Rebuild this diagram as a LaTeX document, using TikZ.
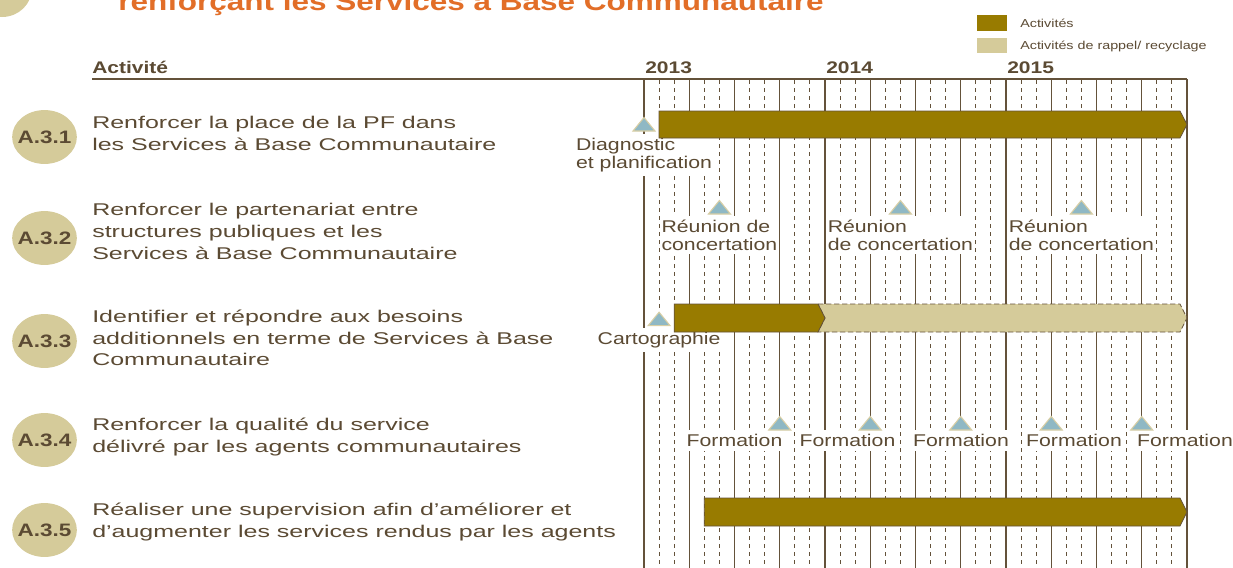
\documentclass[tikz,border=0pt]{standalone}
\usepackage{fontspec}
\setmainfont{Liberation Sans}[FakeStretch=1.25]
\newfontfamily\rowfont{Liberation Sans}[FakeStretch=1.47]
\usetikzlibrary{shapes.geometric}

\definecolor{txtbrown}{RGB}{91,74,51}
\definecolor{gridbrown}{RGB}{100,82,58}
\definecolor{actdark}{RGB}{152,123,0}
\definecolor{actlight}{RGB}{213,203,154}
\definecolor{jalonblue}{RGB}{143,184,196}
\definecolor{jalonedge}{RGB}{216,206,164}
\definecolor{titleorange}{RGB}{226,110,40}

% month -> x
\newcommand{\mo}[1]{644+15.0833*#1}

\tikzset{
  gridsolid/.style={draw=gridbrown,line width=0.9pt},
  griddash/.style={draw=gridbrown,line width=0.7pt,dash pattern=on 3pt off 3pt},
  code/.style={ellipse,fill=actlight,inner xsep=-3pt,inner ysep=9.5pt,text=txtbrown,font=\bfseries\fontsize{13.5}{16}\selectfont},
  acttext/.style={anchor=base west,inner sep=0pt,align=left,text=txtbrown,font=\rowfont\fontsize{12.75}{16.3}\selectfont},
  hdr/.style={anchor=base west,inner sep=0pt,text=txtbrown,font=\bfseries\fontsize{12.6}{15}\selectfont},
  legtext/.style={anchor=base west,inner sep=0pt,text=txtbrown,font=\fontsize{8.6}{10}\selectfont},
  jalontext/.style={anchor=base,inner xsep=0.75pt,inner ysep=3pt,fill=white,align=left,text=txtbrown,font=\fontsize{12.75}{13.5}\selectfont},
  bardark/.style={fill=actdark,draw=gridbrown,line width=0.6pt},
  barlight/.style={fill=actlight,draw=gridbrown,line width=0.6pt,dash pattern=on 4pt off 2pt},
  jalon/.pic={\draw[fill=jalonblue,draw=jalonedge,line width=0.8pt] (-11,0) -- (0,13.5) -- (11,0) -- cycle;}
}

\begin{document}
\begin{tikzpicture}[x=0.75pt,y=0.75pt,yscale=-1,xscale=1]
\fill[white] (0,0) rectangle (1233,568);
\useasboundingbox (0,0) rectangle (1233,568);

%Shape: Circle (title, cut)
\fill[actlight] (2,-12) ellipse [x radius=30,y radius=29];
% Text Node
\node[anchor=base west,inner sep=0pt,text=titleorange,font=\bfseries\fontsize{18.9}{22}\selectfont] (titre) at (118,10) {renforçant les Services à Base Communautaire};

%Legend
\fill[actdark] (976.7,15) rectangle (1006.7,31);
\fill[actlight] (976.7,37.7) rectangle (1006.7,53.3);
\node[legtext] (legact) at (1020,27.7) {Activités};
\node[legtext] (legrap) at (1020,49) {Activités de rappel/ recyclage};

%Grid: quarters and months
\foreach \k in {0,...,12} \draw[gridsolid] (644+45.25*\k,79) -- (644+45.25*\k,568);
\foreach \k in {0,...,11} {
  \draw[griddash] (659.08+45.25*\k,80) -- (659.08+45.25*\k,568);
  \draw[griddash] (674.17+45.25*\k,80) -- (674.17+45.25*\k,568);
}
%Straight Lines (header)
\draw[draw=gridbrown,line width=1.2pt] (92,79) -- (\mo{36},79);

% Text Node
\node[hdr] (hdact) at (92,73.3) {Activité};
\node[hdr] (y13) at (\mo{0}+1,73.3) {2013};
\node[hdr] (y14) at (\mo{12}+1,73.3) {2014};
\node[hdr] (y15) at (\mo{24}+1,73.3) {2015};

%Shape: Ellipse
\node[code] (a31) at (44.5,137) {A.3.1};
\node[code] (a32) at (44.5,238) {A.3.2};
\node[code] (a33) at (44.5,341) {A.3.3};
\node[code] (a34) at (44.5,440) {A.3.4};
\node[code] (a35) at (44.5,530) {A.3.5};

% Text Node (base = last line)
\node[acttext] (t31) at (92,150.4) {Renforcer la place de la PF dans\\les Services à Base Communautaire};
\node[acttext] (t32) at (92,259.4) {Renforcer le partenariat entre\\structures publiques et les\\Services à Base Communautaire};
\node[acttext] (t33) at (92,365.9) {Identifier et répondre aux besoins\\additionnels en terme de Services à Base\\Communautaire};
\node[acttext] (t34) at (92,452.2) {Renforcer la qualité du service\\délivré par les agents communautaires};
\node[acttext] (t35) at (92,537.2) {Réaliser une supervision afin d’améliorer et\\d’augmenter les services rendus par les agents};

% Text Node (jalons)
\node[jalontext] (diag) at (\mo{0},168.7) {Diagnostic\\et planification};
\node[jalontext] (reu1) at (\mo{5},250.3) {Réunion de\\concertation};
\node[jalontext] (reu2) at (\mo{17},250.3) {Réunion\\de concertation};
\node[jalontext] (reu3) at (\mo{29},250.3) {Réunion\\de concertation};
\node[jalontext] (carto) at (\mo{1},344) {Cartographie};
\node[jalontext] (form1) at (734.5,446.7) {Formation};
\node[jalontext] (form2) at (847.5,446.7) {Formation};
\node[jalontext] (form3) at (961,446.7) {Formation};
\node[jalontext] (form4) at (1074,446.7) {Formation};
\node[jalontext] (form5) at (1185,446.7) {Formation};

%Shape: Bars
\draw[bardark] (\mo{1},111) -- (1180,111) -- (\mo{36},124.5) -- (1180,138) -- (\mo{1},138) -- cycle;
\draw[barlight] (818,304) -- (1180,304) -- (\mo{36},318) -- (1180,332) -- (818,332) -- (\mo{12},318) -- cycle;
\draw[bardark] (\mo{2},304) -- (818,304) -- (\mo{12},318) -- (818,332) -- (\mo{2},332) -- cycle;
\draw[bardark] (\mo{4},498) -- (1180,498) -- (\mo{36},512) -- (1180,526) -- (\mo{4},526) -- cycle;

%Shape: Triangles
\pic at (\mo{0},131) {jalon};
\pic at (\mo{5},214) {jalon};
\pic at (\mo{17},214) {jalon};
\pic at (\mo{29},214) {jalon};
\pic at (\mo{1},325.7) {jalon};
\foreach \k in {3,5,7,9,11} \pic at (644+45.25*\k,430) {jalon};

\end{tikzpicture}
\end{document}
